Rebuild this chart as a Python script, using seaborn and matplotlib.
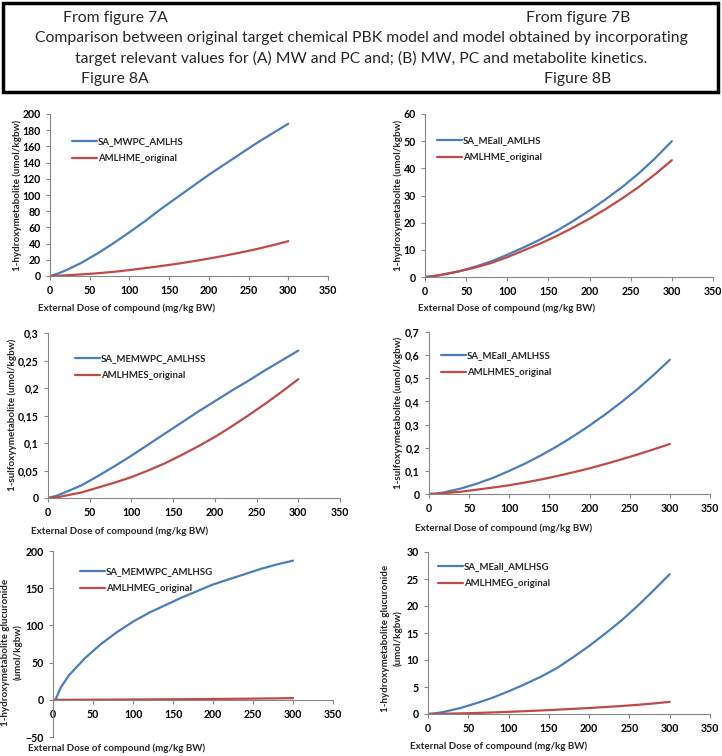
import matplotlib
matplotlib.use("Agg")
import matplotlib.pyplot as plt
import matplotlib.ticker as mticker
from matplotlib.patches import Rectangle
import seaborn as sns

# doses (mg/kg BW)
dose = [0, 10, 20, 40, 60, 80, 100, 120, 140, 160, 180, 200, 220, 240, 260, 280, 300]
dose_glu_a = [3, 10, 20, 40, 60, 80, 100, 120, 140, 160, 180, 200, 220, 240, 260, 280, 300]

# top row: 1-hydroxymetabolite
hydroxy_mwpc = [0, 3, 7, 16.5, 28, 40.5, 54, 68, 83, 97, 111, 125, 138, 151, 164, 176, 188]
hydroxy_meall = [0, 0.3, 0.8, 2, 3.7, 5.7, 8.2, 10.9, 13.8, 17, 20.6, 24.5, 28.7, 33.2, 38.2, 43.8, 50]
hydroxy_orig = [0, 0.3, 0.8, 2, 3.4, 5.1, 7.3, 9.8, 12.3, 15.1, 18.2, 21.5, 25.1, 29, 33.2, 37.9, 43]

# middle row: 1-sulfoxyymetabolite
sulfo_memwpc = [0, 0.004, 0.01, 0.023, 0.04, 0.058, 0.077, 0.097, 0.117, 0.137, 0.157,
                0.176, 0.195, 0.213, 0.232, 0.250, 0.268]
sulfo_meall = [0, 0.002, 0.008, 0.024, 0.045, 0.07, 0.10, 0.132, 0.168, 0.207, 0.25,
               0.296, 0.345, 0.398, 0.454, 0.515, 0.58]
sulfo_orig = [0, 0.001, 0.004, 0.01, 0.019, 0.028, 0.038, 0.05, 0.063, 0.078, 0.094,
              0.111, 0.130, 0.150, 0.171, 0.193, 0.216]

# bottom row: 1-hydroxymetabolite glucuronide
glu_memwpc = [0, 17, 33, 56, 75, 91, 105, 117, 127, 137, 146, 155, 162, 169, 176, 182, 187]
glu_meall = [0, 0.15, 0.4, 1.1, 2.0, 3.0, 4.2, 5.5, 6.9, 8.5, 10.5, 12.6, 14.9, 17.3, 20.0, 22.9, 25.9]
glu_orig = [0, 0.02, 0.05, 0.11, 0.19, 0.29, 0.4, 0.52, 0.65, 0.8, 0.95, 1.11, 1.29, 1.48, 1.7, 1.95, 2.25]

BLUE = "#4a7ebb"
RED = "#be4b48"
GREY = "#868686"
W, H = 722, 756

sns.set_style("ticks")
plt.rcParams["font.family"] = ["Lato", "DejaVu Sans"]

fig = plt.figure(figsize=(W / 100, H / 100), dpi=100)


def add_ax(x0, y0, x1, y1):
    return fig.add_axes([x0 / W, 1 - y1 / H, (x1 - x0) / W, (y1 - y0) / H])


def ftext(x, y, s, **kw):
    fig.text(x / W, 1 - y / H, s, **kw)


# header box
fig.patches.append(Rectangle((3 / W, 1 - 92 / H), 715 / W, 89 / H,
                             transform=fig.transFigure, fill=False,
                             edgecolor="black", linewidth=2.5))
hdr = dict(ha="center", va="center", fontsize=11.3)
ftext(115, 18, "From figure 7A", **hdr)
ftext(578, 18, "From figure 7B", **hdr)
ftext(361, 38, "Comparison between original target chemical PBK model and model obtained by incorporating", **hdr)
ftext(361, 58, "target relevant values for (A) MW and PC and; (B) MW, PC and metabolite kinetics.", **hdr)
ftext(115, 79, "Figure 8A", **hdr)
ftext(578, 79, "Figure 8B", **hdr)

panels = [
    dict(box=(50, 114, 328, 276), x_blue=dose, blue=hydroxy_mwpc, red=hydroxy_orig,
         lb="SA_MWPC_AMLHS", lr="AMLHME_original", ylim=(0, 200), step=20,
         leg=(72, 137), ylab="1-hydroxymetabolite (umol/kgbw)", yl=(17, 195),
         xl=(127, 308)),
    dict(box=(425, 114, 713, 277), x_blue=dose, blue=hydroxy_meall, red=hydroxy_orig,
         lb="SA_MEall_AMLHS", lr="AMLHME_original", ylim=(0, 60), step=10,
         leg=(437, 136), ylab="1-hydroxymetabolite (umol/kgbw)", yl=(398, 195),
         xl=(507, 308)),
    dict(box=(48, 333, 340, 498), x_blue=dose, blue=sulfo_memwpc, red=sulfo_orig,
         lb="SA_MEMWPC_AMLHSS", lr="AMLHMES_original", ylim=(0, 0.3), step=0.05,
         leg=(75, 354), ylab="1-sulfoxyymetabolite (umol/kgbw)", yl=(12, 415),
         xl=(120, 531), comma=True),
    dict(box=(429, 332, 710, 494), x_blue=dose, blue=sulfo_meall, red=sulfo_orig,
         lb="SA_MEall_AMLHSS", lr="AMLHMES_original", ylim=(0, 0.7), step=0.1,
         leg=(441, 351), ylab="1-sulfoxyymetabolite (umol/kgbw)", yl=(398, 413),
         xl=(504, 528), comma=True),
    dict(box=(53, 551, 333, 737), x_blue=dose_glu_a, blue=glu_memwpc, red=glu_orig,
         lb="SA_MEMWPC_AMLHSG", lr="AMLHMEG_original", ylim=(-50, 200), step=50,
         leg=(80, 567), ylab="1-hydroxymetabolite glucuronide\n(umol/kgbw)", yl=(12, 652),
         xl=(117, 748), zero_axis=True),
    dict(box=(428, 552, 710, 714), x_blue=dose, blue=glu_meall, red=glu_orig,
         lb="SA_MEall_AMLHSG", lr="AMLHMEG_original", ylim=(0, 30), step=5,
         leg=(438, 562), ylab="1-hydroxymetabolite glucuronide\n(umol/kgbw)", yl=(392, 638),
         xl=(499, 746)),
]

for p in panels:
    x0, y0, x1, y1 = p["box"]
    ax = add_ax(x0, y0, x1, y1)
    sns.lineplot(x=p["x_blue"], y=p["blue"], color=BLUE, linewidth=1.6, label=p["lb"], ax=ax)
    sns.lineplot(x=dose, y=p["red"], color=RED, linewidth=1.6, label=p["lr"], ax=ax)
    ax.set_xlim(0, 350)
    ax.set_ylim(*p["ylim"])
    ax.xaxis.set_major_locator(mticker.MultipleLocator(50))
    ax.yaxis.set_major_locator(mticker.MultipleLocator(p["step"]))
    if p.get("comma"):
        ax.yaxis.set_major_formatter(mticker.FuncFormatter(
            lambda v, pos: ("%g" % round(v, 3)).replace(".", ",")))
    for s in ("top", "right"):
        ax.spines[s].set_visible(False)
    for s in ("left", "bottom"):
        ax.spines[s].set_color(GREY)
        ax.spines[s].set_linewidth(0.8)
    if p.get("zero_axis"):
        ax.spines["bottom"].set_position(("data", 0))
    ax.tick_params(colors=GREY, labelcolor="black", length=3, width=0.8,
                   labelsize=7.6, pad=3.5)
    for lab in ax.get_xticklabels() + ax.get_yticklabels():
        lab.set_fontweight("bold")
    ax.set_xlabel("")
    ax.set_ylabel("")
    lx, ly = p["leg"]
    ax.legend(loc="upper left", frameon=False, borderpad=0, borderaxespad=0,
              bbox_to_anchor=((lx - x0) / (x1 - x0), 1 - (ly - y0) / (y1 - y0)),
              handlelength=2.6, handletextpad=0.1, labelspacing=0.85,
              prop={"size": 6.9, "weight": "bold"})
    ftext(p["yl"][0], p["yl"][1], p["ylab"], rotation=90, ha="center", va="center",
          fontsize=7.1, fontweight="bold", linespacing=1.45)
    ftext(p["xl"][0], p["xl"][1], "External Dose of compound (mg/kg BW)",
          ha="center", va="center", fontsize=7, fontweight="bold")

fig.savefig("out.png", dpi=100)
